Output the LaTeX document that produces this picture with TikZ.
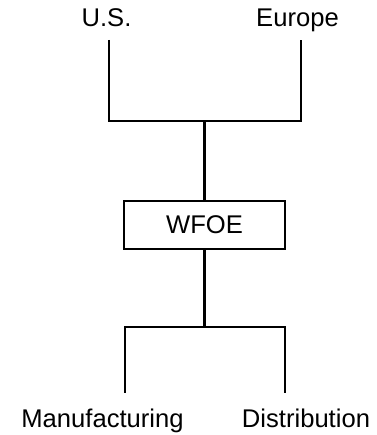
\documentclass[tikz,border=0pt]{standalone}
\usepackage{fontspec}
\setmainfont{Liberation Sans}
\begin{document}
\begin{tikzpicture}[x=1pt,y=1pt,
  lbl/.style={font=\fontsize{25.6}{30}\selectfont, inner sep=0pt, anchor=base},
  conn/.style={line width=2.2pt},
  boxnode/.style={draw, line width=2pt, minimum width=161pt, minimum height=48pt, inner sep=0pt, font=\fontsize{25.6}{30}\selectfont}]
\useasboundingbox (0,0) rectangle (376,435);
% labels
\node[lbl] (us) at (106.5,408) {U.S.};
\node[lbl] (eu) at (297.5,408) {Europe};
\node[boxnode] (wfoe) at (204.5,210) {\raisebox{-1pt}{WFOE}};
\node[lbl] (mfg) at (102.5,8) {Manufacturing};
\node[lbl] (dist) at (306,8) {Distribution};
% connector ends
\coordinate (usend) at (109,395);
\coordinate (euend) at (301,395);
\coordinate (jtop) at (204.5,314);
\coordinate (jbot) at (204.5,108);
\coordinate (mfgend) at (125,42);
\coordinate (distend) at (285,42);
% connectors
\draw[conn] (usend) |- (jtop) -| (euend);
\draw[conn] (jtop) -- (wfoe.north);
\draw[conn] (wfoe.south) -- (jbot);
\draw[conn] (mfgend) |- (jbot) -| (distend);
\end{tikzpicture}
\end{document}
